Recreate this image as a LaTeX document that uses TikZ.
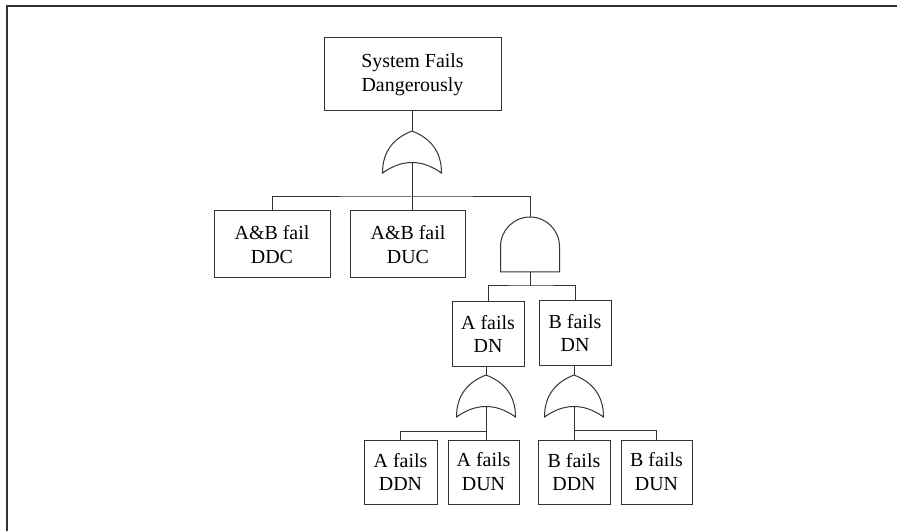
\documentclass[tikz,border=0pt]{standalone}
\usepackage{fontspec}
\setmainfont{Liberation Serif}
\usepackage{tikz}

\begin{document}
\begin{tikzpicture}[x=1bp, y=-1bp, line width=1bp, draw=black!80,
  main/.style = {draw, rectangle, inner sep=0pt, align=center,
                 font=\fontsize{20}{24}\selectfont},
  orgate/.pic = {
    \coordinate (-top) at (0,0);
    \coordinate (-in) at (0,31);
    \draw (0,0) .. controls (-18,7) and (-29.5,20) .. (-29.5,42)
                .. controls (-10,28) and (10,28) .. (29.5,42)
                .. controls (29.5,20) and (18,7) .. (0,0);
  },
  andgate/.pic = {
    \coordinate (-top) at (0,0);
    \coordinate (-in) at (0,55);
    \draw (-29.5,55) -- (-29.5,29.5)
          .. controls (-29.5,13.2) and (-16.3,0) .. (0,0)
          .. controls (16.3,0) and (29.5,13.2) .. (29.5,29.5)
          -- (29.5,55) -- cycle;
  }]
\useasboundingbox (0,0) rectangle (897,531);
% frame
\draw[line width=1.3bp] (7,531) -- (7,6) -- (897,6);

\node[main, minimum width=177bp, minimum height=73bp] (1) at (412.5,74.5) {System Fails\\Dangerously};
\node[main, minimum width=116bp, minimum height=67bp] (2) at (272,244.5) {A\&B fail\\DDC};
\node[main, minimum width=115bp, minimum height=67bp] (3) at (408,244.5) {A\&B fail\\DUC};
\node[main, minimum width=72bp, minimum height=64bp] (4) at (488,334) {A fails\\DN};
\node[main, minimum width=72bp, minimum height=64bp] (5) at (575,333) {B fails\\DN};
\node[main, minimum width=73bp, minimum height=64bp] (6) at (400.5,472) {A fails\\DDN};
\node[main, minimum width=71bp, minimum height=64bp] (7) at (483.5,472) {A fails\\DUN};
\node[main, minimum width=72bp, minimum height=64bp] (8) at (574,472) {B fails\\DDN};
\node[main, minimum width=71bp, minimum height=64bp] (9) at (656.5,472) {B fails\\DUN};

\pic (g1) at (412,131) {orgate};
\pic (g2) at (530,217) {andgate};
\pic (g3) at (486,375) {orgate};
\pic (g4) at (574,375) {orgate};

% top level
\draw (g1-top |- 1.south) -- (g1-top);
\draw (g1-in) -- (g1-in |- 3.north);
\draw (2.north) |- (g1-in |- 0,197) -| (g2-top);
% and gate
\draw (g2-in) -- (g2-in |- 0,286);
\draw (4.north) |- (g2-in |- 0,286) -| (5.north);
% A side
\draw (g3-top |- 4.south) -- (g3-top);
\draw (g3-in) -- (g3-in |- 7.north);
\draw (6.north) |- (g3-in |- 0,431);
% B side
\draw (g4-top |- 5.south) -- (g4-top);
\draw (g4-in) -- (g4-in |- 8.north);
\draw (g4-in |- 0,430) -| (9.north);
\end{tikzpicture}
\end{document}
